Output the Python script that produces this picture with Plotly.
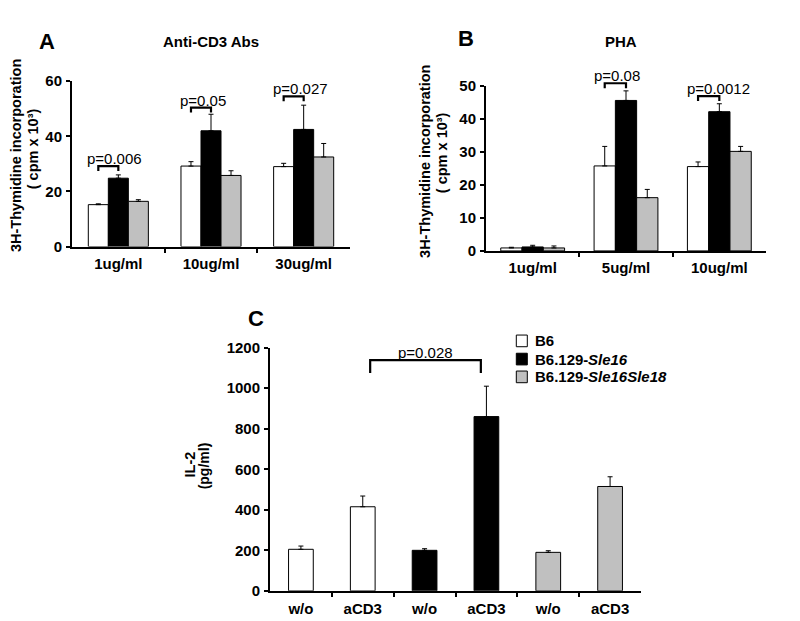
import plotly.graph_objects as go

# ---------------- data ----------------
A_categories = ["1ug/ml", "10ug/ml", "30ug/ml"]
A_b6 = [15.2, 29.2, 29.0]
A_b6_err = [0.3, 1.6, 1.2]
A_sle16 = [24.8, 42.0, 42.5]
A_sle16_err = [1.2, 6.0, 8.8]
A_sle1618 = [16.4, 25.8, 32.5]
A_sle1618_err = [0.6, 1.7, 4.9]
A_ticks = [0, 20, 40, 60]
A_pvals = [(0, 29.2, "p=0.006"), (1, 50.4, "p=0.05"), (2, 54.5, "p=0.027")]

B_categories = ["1ug/ml", "5ug/ml", "10ug/ml"]
B_b6 = [0.9, 25.7, 25.5]
B_b6_err = [0.2, 5.9, 1.4]
B_sle16 = [1.2, 45.5, 42.1]
B_sle16_err = [0.5, 2.9, 2.4]
B_sle1618 = [0.9, 16.1, 30.1]
B_sle1618_err = [0.6, 2.5, 1.5]
B_ticks = [0, 10, 20, 30, 40, 50]
B_pvals = [(1, 50.7, "p=0.08"), (2, 46.8, "p=0.0012")]

C_ticklabels = ["w/o", "aCD3", "w/o", "aCD3", "w/o", "aCD3"]
C_b6 = [205, 415]
C_b6_err = [16, 53]
C_sle16 = [200, 860]
C_sle16_err = [8, 150]
C_sle1618 = [190, 515]
C_sle1618_err = [8, 48]
C_ticks = [0, 200, 400, 600, 800, 1000, 1200]
C_pval = (1, 3, 1139, "p=0.028")

strain_prefix = ["B6", "B6.129-", "B6.129-"]
strain_italic = ["", "Sle16", "Sle16Sle18"]
fills = ["white", "black", "#c0c0c0"]

FONT = "Liberation Sans, Arial, sans-serif"
W, H = 800, 621


def px_x(p):
    return p / W


def px_y(p):
    return 1 - p / H


# axis geometry (domains in paper units, ranges in data units)
A_xdom, A_ydom = [px_x(64), px_x(342)], [px_y(236), px_y(66)]
B_xdom, B_ydom = [px_x(478), px_x(758)], [px_y(240.5), px_y(70.5)]
C_xdom, C_ydom = [px_x(262), px_x(633)], [px_y(590), px_y(340)]
A_xr, A_yr = [-0.5, 2.5], [0, 60]
B_xr, B_yr = [-0.5, 2.5], [0, 50]
C_xr, C_yr = [-0.5, 5.5], [0, 1200]


def scale(dom, rng, v):
    return dom[0] + (v - rng[0]) / (rng[1] - rng[0]) * (dom[1] - dom[0])


fig = go.Figure()


def err(arr):
    return dict(type="data", symmetric=False, array=arr, arrayminus=[0] * len(arr),
                color="black", thickness=1, width=2.5, visible=True)


def add_group_panel(cats, series, errs, xa, ya, bw):
    xs = list(range(len(cats)))
    offsets = [-1.5 * bw, -0.5 * bw, 0.5 * bw]
    for k in range(3):
        fig.add_trace(go.Bar(
            x=xs, y=series[k], width=bw, offset=offsets[k],
            marker=dict(color=fills[k], line=dict(color="black", width=1)),
            error_y=err(errs[k]), xaxis=xa, yaxis=ya, showlegend=False,
            name=strain_prefix[k] + strain_italic[k]))


PFONT = dict(family=FONT, size=15, color="black")


def bracket(xl, xr_, yv, leg, xdom, xrng, ydom, yrng):
    X0, X1 = scale(xdom, xrng, xl), scale(xdom, xrng, xr_)
    Y, Yl = scale(ydom, yrng, yv), scale(ydom, yrng, yv - leg)
    fig.add_shape(type="path", xref="paper", yref="paper",
                  path=f"M{X0},{Yl} L{X0},{Y} L{X1},{Y} L{X1},{Yl}",
                  line=dict(color="black", width=2.2))
    return X0, X1, Y


def add_brackets(pvals, bw, leg, xdom, xrng, ydom, yrng):
    for (g, yv, label) in pvals:
        X0, X1, Y = bracket(g - bw, g, yv, leg, xdom, xrng, ydom, yrng)
        fig.add_annotation(x=X0, y=Y, xref="paper", yref="paper", text=label,
                           showarrow=False, xanchor="left", yanchor="bottom",
                           xshift=-13, yshift=-3, font=PFONT)


bwA = 0.216
add_group_panel(A_categories, [A_b6, A_sle16, A_sle1618],
                [A_b6_err, A_sle16_err, A_sle1618_err], "x", "y", bwA)
add_brackets(A_pvals, bwA, 1.8, A_xdom, A_xr, A_ydom, A_yr)

bwB = 0.228
add_group_panel(B_categories, [B_b6, B_sle16, B_sle1618],
                [B_b6_err, B_sle16_err, B_sle1618_err], "x2", "y2", bwB)
add_brackets(B_pvals, bwB, 1.5, B_xdom, B_xr, B_ydom, B_yr)

# ---------- panel C ----------
C_series = [C_b6, C_sle16, C_sle1618]
C_errs = [C_b6_err, C_sle16_err, C_sle1618_err]
for k in range(3):
    fig.add_trace(go.Bar(
        x=[2 * k, 2 * k + 1], y=C_series[k], width=0.4, offset=-0.2,
        marker=dict(color=fills[k], line=dict(color="black", width=1)),
        error_y=err(C_errs[k]), xaxis="x3", yaxis="y3", showlegend=False,
        name=strain_prefix[k] + strain_italic[k]))

cl, cr, cy, clabel = C_pval
X0, X1, Y = bracket(cl + 0.12, cr - 0.09, cy, 64, C_xdom, C_xr, C_ydom, C_yr)
fig.add_annotation(x=(X0 + X1) / 2, y=Y, xref="paper", yref="paper", text=clabel,
                   showarrow=False, xanchor="center", yanchor="bottom", yshift=-3,
                   font=PFONT)

# ---------- axes ----------
tickfont = dict(family=FONT, size=15, color="black", weight="bold")


def xaxis_cfg(dom, rng, labels, anchor, standoff=2):
    n = len(labels)
    return dict(domain=dom, range=rng, tickmode="array",
                tickvals=list(range(n)), ticktext=labels, ticks="",
                showline=True, linewidth=2, linecolor="black", showgrid=False,
                zeroline=False, tickfont=tickfont, anchor=anchor, fixedrange=True,
                ticklabelstandoff=standoff,
                minor=dict(tickmode="array", tickvals=[i + 0.5 for i in range(n - 1)],
                           ticks="outside", ticklen=4, tickwidth=2, tickcolor="black",
                           showgrid=False))


def yaxis_cfg(dom, rng, tv, anchor):
    return dict(domain=dom, range=rng, tickmode="array", tickvals=tv,
                ticks="outside", ticklen=4, tickwidth=2, tickcolor="black",
                showline=True, linewidth=2, linecolor="black", showgrid=False,
                zeroline=False, tickfont=tickfont, anchor=anchor, fixedrange=True,
                ticklabelstandoff=1)


fig.update_layout(
    width=W, height=H, margin=dict(l=0, r=0, t=0, b=0),
    paper_bgcolor="white", plot_bgcolor="white", showlegend=False,
    xaxis=xaxis_cfg(A_xdom, A_xr, A_categories, "y"),
    yaxis=yaxis_cfg(A_ydom, A_yr, A_ticks, "x"),
    xaxis2=xaxis_cfg(B_xdom, B_xr, B_categories, "y2"),
    yaxis2=yaxis_cfg(B_ydom, B_yr, B_ticks, "x2"),
    xaxis3=xaxis_cfg(C_xdom, C_xr, C_ticklabels, "y3", standoff=3),
    yaxis3=yaxis_cfg(C_ydom, C_yr, C_ticks, "x3"),
)


def text(xp, yp, s, size=15, bold=True, angle=0, xanchor="center", style="normal",
         xshift=0):
    fig.add_annotation(x=px_x(xp), y=px_y(yp), xref="paper", yref="paper", text=s,
                       showarrow=False, xanchor=xanchor, yanchor="middle",
                       textangle=angle, xshift=xshift,
                       font=dict(family=FONT, size=size, color="black", style=style,
                                 weight="bold" if bold else "normal"))


# panel letters and titles
text(38.7, 25, "A", size=22)
text(458, 22, "B", size=22)
text(247.5, 310, "C", size=22)
text(202.7, 25, "Anti-CD3 Abs", size=15)
text(613, 25, "PHA", size=15)

# y-axis titles
text(8, 143, "3H-Thymidine incorporation", size=14.5, angle=-90)
text(25, 136, "( cpm x 10³)", size=14.5, angle=-90)
text(417, 149, "3H-Thymidine incorporation", size=14.5, angle=-90)
text(434, 140, "( cpm x 10³)", size=14.5, angle=-90)
text(182, 460, "IL-2", size=14.5, angle=-90)
text(196, 462, "(pg/ml)", size=14, angle=-90)

# legend (panel C)
legend_rows = [333, 351.7, 370]
prefix_width = 53.4  # width of "B6.129-" at 15px bold
for k in range(3):
    fig.add_shape(type="rect", xref="paper", yref="paper",
                  x0=px_x(508.3), x1=px_x(519.3),
                  y0=px_y(legend_rows[k] + 6), y1=px_y(legend_rows[k] - 6),
                  fillcolor=fills[k], line=dict(color="black", width=1))
    text(525, legend_rows[k], strain_prefix[k], size=15, xanchor="left")
    if strain_italic[k]:
        text(525 + prefix_width, legend_rows[k], strain_italic[k], size=15,
             xanchor="left", style="italic", xshift=0)

fig.write_html("out.html")
